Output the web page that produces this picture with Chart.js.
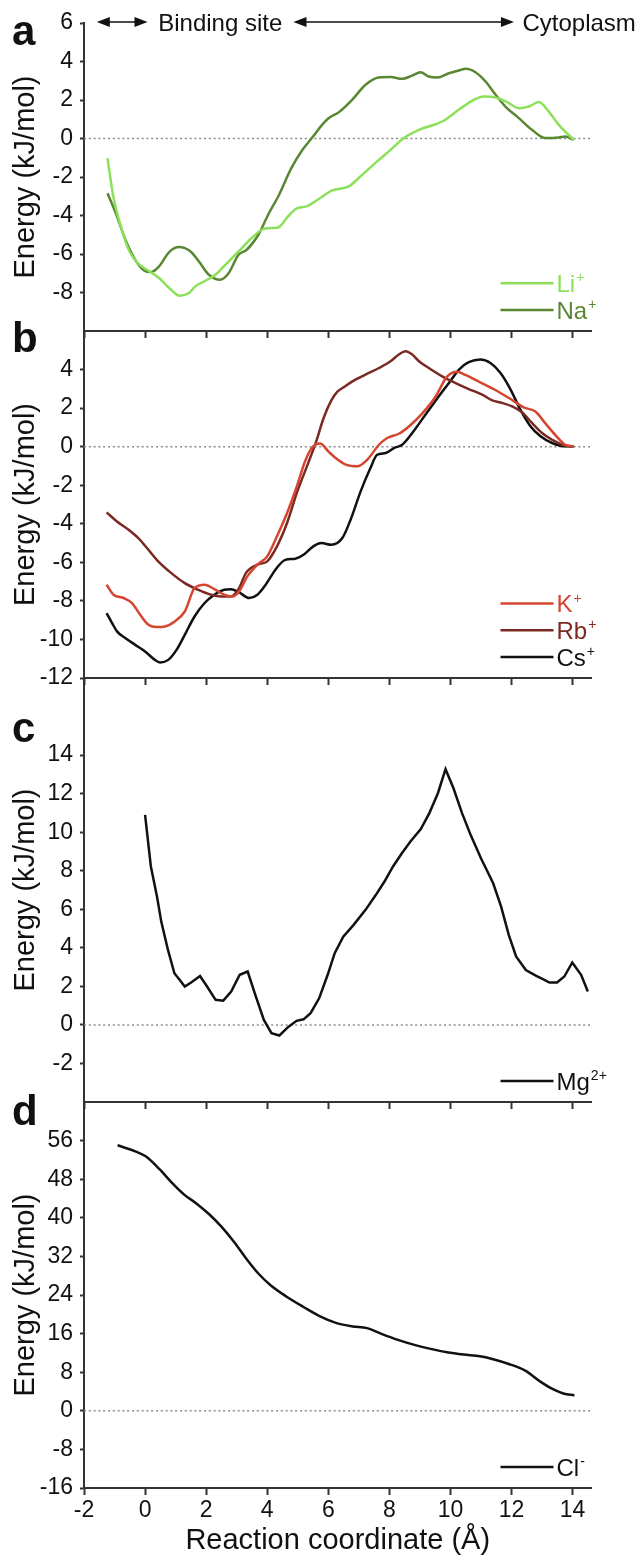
<!DOCTYPE html>
<html lang="en">
<head>
<meta charset="UTF-8">
<title>Energy profiles</title>
<script src="https://cdn.jsdelivr.net/npm/chart.js@4.4.0/dist/chart.umd.min.js"></script>
<style>
  body { margin: 0; background: #fff; }
  #wrap { position: relative; width: 643px; height: 1560px; }
  #wrap canvas { position: absolute; left: 0; top: 0; }
</style>
</head>
<body>
<div id="wrap">
  <canvas id="panel-a" width="643" height="1560"></canvas>
  <canvas id="panel-b" width="643" height="1560"></canvas>
  <canvas id="panel-c" width="643" height="1560"></canvas>
  <canvas id="panel-d" width="643" height="1560"></canvas>
</div>
<script>
var FONT = "'Liberation Sans', Arial, Helvetica, sans-serif";
var AXIS = '#333333';
var XMIN = -2, XMAX = 14.62;
var xTicks = [-2, 0, 2, 4, 6, 8, 10, 12, 14];

// panel a : Li+ / Na+
var aTicks = [-8, -6, -4, -2, 0, 2, 4, 6];
var liX = [-1.23, -1.05, -0.78, -0.51, -0.24, 0.14, 0.46, 0.79, 1.14, 1.44, 1.65, 1.98, 2.30, 2.63, 3.06, 3.49, 3.82, 4.14, 4.36, 4.68, 4.95, 5.28, 5.65, 6.13, 6.67, 7.11, 7.60, 8.04, 8.47, 8.97, 9.51, 9.78, 10.27, 10.71, 11.09, 11.47, 11.86, 12.24, 12.57, 12.89, 13.22, 13.55, 14.04];
var liY = [-1.02, -2.92, -4.65, -5.87, -6.47, -6.90, -7.25, -7.77, -8.17, -8.03, -7.68, -7.39, -7.08, -6.56, -5.87, -5.17, -4.74, -4.65, -4.62, -4.05, -3.65, -3.53, -3.18, -2.70, -2.49, -1.89, -1.19, -0.59, 0.02, 0.45, 0.74, 0.92, 1.49, 1.96, 2.18, 2.13, 1.89, 1.57, 1.66, 1.89, 1.40, 0.71, -0.07];
var naX = [-1.23, -0.94, -0.62, -0.29, -0.02, 0.19, 0.46, 0.79, 1.11, 1.49, 1.76, 2.09, 2.46, 2.74, 3.06, 3.33, 3.71, 4.03, 4.36, 4.79, 5.15, 5.50, 5.75, 6.02, 6.35, 6.78, 7.22, 7.65, 8.04, 8.42, 8.75, 9.02, 9.29, 9.57, 9.95, 10.33, 10.50, 10.82, 11.15, 11.48, 11.80, 12.24, 12.67, 13.11, 13.55, 13.76, 14.04];
var naY = [-2.84, -3.96, -5.35, -6.38, -6.87, -6.94, -6.64, -5.90, -5.64, -5.87, -6.38, -7.08, -7.34, -6.99, -6.04, -5.78, -5.00, -3.96, -3.01, -1.54, -0.60, 0.10, 0.62, 1.06, 1.37, 2.01, 2.79, 3.17, 3.19, 3.10, 3.27, 3.44, 3.22, 3.17, 3.39, 3.56, 3.62, 3.44, 2.96, 2.27, 1.66, 1.06, 0.45, 0.02, 0.05, 0.10, -0.07];

// panel b : K+ / Rb+ / Cs+
var bTicks = [-12, -10, -8, -6, -4, -2, 0, 2, 4];
var kX = [-1.26, -1.03, -0.70, -0.43, -0.16, 0.11, 0.38, 0.65, 0.97, 1.30, 1.62, 1.95, 2.27, 2.59, 2.86, 3.08, 3.35, 3.68, 4.00, 4.32, 4.65, 4.97, 5.24, 5.46, 5.73, 6.00, 6.24, 6.57, 6.95, 7.28, 7.66, 7.93, 8.31, 8.64, 9.08, 9.51, 9.89, 10.22, 10.49, 10.93, 11.47, 12.02, 12.40, 12.78, 13.11, 13.44, 13.76, 14.04];
var kY = [-7.16, -7.68, -7.85, -8.11, -8.72, -9.24, -9.36, -9.33, -9.07, -8.55, -7.34, -7.16, -7.39, -7.68, -7.77, -7.51, -6.73, -6.12, -5.69, -4.65, -3.44, -2.06, -0.76, -0.07, 0.16, -0.24, -0.59, -0.93, -1.02, -0.67, 0.10, 0.45, 0.67, 1.05, 1.73, 2.59, 3.63, 3.89, 3.72, 3.37, 2.94, 2.42, 2.04, 1.82, 1.21, 0.60, 0.10, 0.02];
var rbX = [-1.26, -0.92, -0.54, -0.22, 0.11, 0.43, 0.86, 1.30, 1.73, 2.16, 2.49, 2.81, 3.08, 3.30, 3.68, 4.00, 4.32, 4.65, 4.97, 5.30, 5.60, 5.85, 6.10, 6.30, 6.50, 6.79, 7.22, 7.66, 8.04, 8.31, 8.53, 8.75, 8.97, 9.29, 9.73, 10.17, 10.60, 11.04, 11.37, 11.69, 12.02, 12.35, 12.67, 13.00, 13.33, 13.76, 14.04];
var rbY = [-3.41, -3.88, -4.31, -4.74, -5.35, -5.95, -6.56, -7.08, -7.42, -7.68, -7.77, -7.77, -7.34, -6.56, -6.12, -5.95, -5.17, -3.96, -2.40, -1.02, 0.25, 1.50, 2.40, 2.85, 3.08, 3.39, 3.74, 4.08, 4.43, 4.78, 4.95, 4.78, 4.43, 4.08, 3.65, 3.30, 2.99, 2.70, 2.40, 2.27, 2.09, 1.78, 1.23, 0.71, 0.36, 0.05, 0.02];
var csX = [-1.26, -1.08, -0.92, -0.65, -0.32, 0.00, 0.32, 0.49, 0.76, 1.03, 1.30, 1.62, 1.95, 2.27, 2.59, 2.81, 3.08, 3.41, 3.68, 3.95, 4.27, 4.59, 4.92, 5.19, 5.51, 5.78, 6.10, 6.46, 6.73, 7.06, 7.38, 7.60, 7.88, 8.15, 8.42, 8.75, 9.18, 9.62, 9.95, 10.28, 10.60, 10.98, 11.31, 11.64, 11.97, 12.29, 12.62, 12.95, 13.33, 13.76, 14.04];
var csY = [-8.63, -9.15, -9.58, -9.93, -10.28, -10.62, -11.06, -11.19, -11.06, -10.54, -9.76, -8.81, -8.11, -7.68, -7.42, -7.39, -7.56, -7.85, -7.68, -7.16, -6.38, -5.87, -5.81, -5.61, -5.17, -5.00, -5.09, -4.74, -3.79, -2.32, -1.11, -0.42, -0.33, -0.07, 0.10, 0.71, 1.66, 2.61, 3.30, 4.00, 4.38, 4.52, 4.34, 3.82, 2.96, 1.92, 1.06, 0.54, 0.19, 0.02, 0.02];

// panel c : Mg2+
var cTicks = [-2, 0, 2, 4, 6, 8, 10, 12, 14];
var mgX = [0.00, 0.19, 0.39, 0.53, 0.75, 0.96, 1.13, 1.30, 1.52, 1.80, 2.03, 2.31, 2.56, 2.82, 3.10, 3.36, 3.61, 3.89, 4.14, 4.40, 4.68, 4.96, 5.19, 5.42, 5.70, 5.98, 6.21, 6.49, 6.83, 7.22, 7.56, 7.84, 8.12, 8.41, 8.69, 9.03, 9.31, 9.59, 9.84, 10.10, 10.38, 10.66, 11.00, 11.40, 11.66, 11.91, 12.15, 12.47, 12.81, 13.03, 13.24, 13.49, 13.73, 13.99, 14.28, 14.50];
var mgY = [10.90, 8.22, 6.66, 5.36, 3.89, 2.68, 2.34, 1.99, 2.21, 2.54, 1.99, 1.30, 1.26, 1.73, 2.60, 2.77, 1.56, 0.26, -0.43, -0.55, -0.12, 0.21, 0.29, 0.61, 1.38, 2.60, 3.72, 4.58, 5.19, 5.97, 6.75, 7.44, 8.22, 8.91, 9.52, 10.16, 10.99, 12.02, 13.27, 12.28, 10.99, 9.86, 8.65, 7.35, 6.14, 4.67, 3.55, 2.85, 2.54, 2.37, 2.20, 2.20, 2.51, 3.24, 2.60, 1.73];

// panel d : Cl-
var dTicks = [-16, -8, 0, 8, 16, 24, 32, 40, 48, 56];
var clX = [-0.90, -0.32, 0.02, 0.49, 0.89, 1.29, 1.70, 2.10, 2.50, 2.91, 3.31, 3.71, 4.11, 4.65, 5.19, 5.73, 6.27, 6.80, 7.27, 7.74, 8.28, 8.82, 9.35, 9.89, 10.43, 10.97, 11.37, 11.91, 12.45, 12.98, 13.39, 13.70, 14.06];
var clY = [55.03, 53.78, 52.74, 49.96, 47.19, 44.76, 42.88, 40.73, 38.17, 35.04, 31.57, 28.45, 26.02, 23.59, 21.51, 19.57, 18.18, 17.49, 17.14, 15.96, 14.71, 13.67, 12.84, 12.14, 11.66, 11.31, 10.75, 9.71, 8.32, 5.90, 4.37, 3.60, 3.19];

// region annotation above panel a (x in reaction coordinate units)
var topNotes = [
  {kind: 'arrow', from: -1.58, to: 0.08},
  {kind: 'text', at: 0.43, text: 'Binding site'},
  {kind: 'arrow', from: 4.86, to: 12.08},
  {kind: 'text', at: 12.36, text: 'Cytoplasm'}
];

function pts(xs, ys) {
  return xs.map(function (x, i) { return {x: x, y: ys[i]}; });
}

function arrowHead(ctx, x, y, dir) {
  ctx.beginPath();
  ctx.moveTo(x, y);
  ctx.lineTo(x + dir * 13, y - 5);
  ctx.lineTo(x + dir * 13, y + 5);
  ctx.closePath();
  ctx.fill();
}

var panelDecor = {
  id: 'panelDecor',
  afterDraw: function (chart, args, opts) {
    var ctx = chart.ctx, ca = chart.chartArea;
    ctx.save();
    ctx.fillStyle = '#111';
    ctx.font = 'bold 42px ' + FONT;
    ctx.textAlign = 'left';
    ctx.textBaseline = 'alphabetic';
    ctx.fillText(opts.letter, 12, opts.letterY);

    // legend in lower right corner
    var items = chart.data.datasets.filter(function (d) { return d.legendText; });
    items.forEach(function (d, i) {
      var y = ca.bottom - 21 - (items.length - 1 - i) * 26.7;
      ctx.strokeStyle = d.borderColor;
      ctx.lineWidth = 2.5;
      ctx.beginPath();
      ctx.moveTo(ca.right - 91, y);
      ctx.lineTo(ca.right - 38, y);
      ctx.stroke();
      ctx.fillStyle = d.borderColor;
      ctx.font = '24px ' + FONT;
      var tx = ca.right - 35;
      ctx.fillText(d.legendText, tx, y + 8.5);
      var w = ctx.measureText(d.legendText).width;
      ctx.font = '14px ' + FONT;
      ctx.fillText(d.legendSup, tx + w + 1, y - 1);
    });

    if (opts.notes) {
      var xs = chart.scales.x, ys = chart.scales.y;
      var yy = ys.getPixelForValue(ys.max) - 1;
      ctx.strokeStyle = '#111';
      ctx.fillStyle = '#111';
      ctx.lineWidth = 1.6;
      opts.notes.forEach(function (n) {
        if (n.kind === 'arrow') {
          var x1 = xs.getPixelForValue(n.from), x2 = xs.getPixelForValue(n.to);
          ctx.beginPath();
          ctx.moveTo(x1 + 6, yy);
          ctx.lineTo(x2 - 6, yy);
          ctx.stroke();
          arrowHead(ctx, x1, yy, 1);
          arrowHead(ctx, x2, yy, -1);
        } else {
          ctx.font = '24px ' + FONT;
          ctx.fillText(n.text, xs.getPixelForValue(n.at), yy + 8.5);
        }
      });
    }
    ctx.restore();
  }
};

function series(label, sup, color, xs, ys, smooth) {
  return {
    data: pts(xs, ys),
    borderColor: color,
    borderWidth: 2.5,
    pointRadius: 0,
    fill: false,
    tension: smooth ? 0.4 : 0,
    cubicInterpolationMode: smooth ? 'monotone' : 'default',
    legendText: label,
    legendSup: sup
  };
}

function zeroLine() {
  return {
    data: [{x: XMIN, y: 0}, {x: XMAX, y: 0}],
    borderColor: '#8a8a8a',
    borderWidth: 1.5,
    borderDash: [2, 2.8],
    pointRadius: 0,
    fill: false
  };
}

var panels = [
  {id: 'panel-a', letter: 'a', letterY: 45, top: 23, bottom: 331, yMin: -10, yMax: 6, ticks: aTicks, notes: topNotes,
   sets: [series('Li', '+', '#8de05a', liX, liY, true), series('Na', '+', '#5a8732', naX, naY, true)]},
  {id: 'panel-b', letter: 'b', letterY: 352, top: 331, bottom: 678, yMin: -12, yMax: 6, ticks: bTicks,
   sets: [series('K', '+', '#d6452f', kX, kY, true), series('Rb', '+', '#7a2a22', rbX, rbY, true), series('Cs', '+', '#111111', csX, csY, true)]},
  {id: 'panel-c', letter: 'c', letterY: 742, top: 678, bottom: 1102, yMin: -4, yMax: 18, ticks: cTicks,
   sets: [series('Mg', '2+', '#111111', mgX, mgY, false)]},
  {id: 'panel-d', letter: 'd', letterY: 1125, top: 1102, bottom: 1488, yMin: -16, yMax: 64, ticks: dTicks, last: true,
   sets: [series('Cl', '-', '#111111', clX, clY, true)]}
];

panels.forEach(function (p) {
  var xh = p.last ? 72 : 8;
  var ds = p.sets.slice();
  ds.push(zeroLine());
  new Chart(document.getElementById(p.id), {
    type: 'line',
    data: {datasets: ds},
    options: {
      responsive: false,
      animation: false,
      events: [],
      layout: {padding: {left: 0, right: 51.5, top: p.top, bottom: 1560 - p.bottom - xh}},
      plugins: {
        legend: {display: false},
        tooltip: {enabled: false},
        panelDecor: {letter: p.letter, letterY: p.letterY, notes: p.notes}
      },
      scales: {
        x: {
          type: 'linear',
          min: XMIN,
          max: XMAX,
          afterBuildTicks: function (s) { s.ticks = xTicks.map(function (v) { return {value: v}; }); },
          afterFit: function (s) { s.height = xh; },
          border: {display: true, color: AXIS, width: 2},
          grid: {drawOnChartArea: false, drawTicks: true, tickLength: 7, tickColor: AXIS, tickWidth: 2},
          ticks: {display: !!p.last, color: '#111', font: {family: FONT, size: 23}, padding: 2, maxRotation: 0, autoSkip: false},
          title: {display: !!p.last, text: 'Reaction coordinate (Å)', color: '#111', font: {family: FONT, size: 29}, padding: {top: 0, bottom: 2}}
        },
        y: {
          type: 'linear',
          min: p.yMin,
          max: p.yMax,
          afterBuildTicks: function (s) { s.ticks = p.ticks.map(function (v) { return {value: v}; }); },
          afterFit: function (s) { s.width = 84; },
          border: {display: true, color: AXIS, width: 2},
          grid: {drawOnChartArea: false, drawTicks: true, tickLength: 4, tickColor: AXIS, tickWidth: 2},
          ticks: {color: '#111', font: {family: FONT, size: 23}, padding: 7, autoSkip: false},
          title: {display: true, text: 'Energy (kJ/mol)', color: '#111', font: {family: FONT, size: 29}, padding: {top: 9, bottom: 0}}
        }
      }
    },
    plugins: [panelDecor]
  });
});
</script>
</body>
</html>
